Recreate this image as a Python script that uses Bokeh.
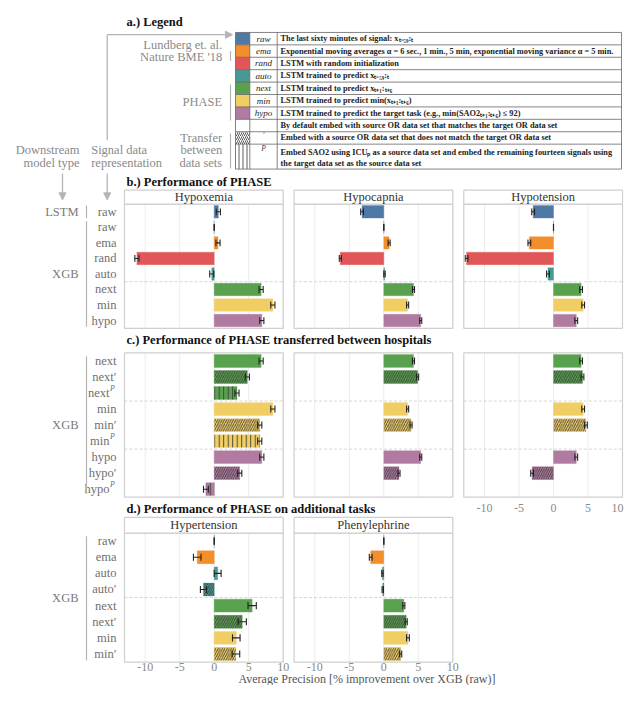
from bokeh.plotting import figure
from bokeh.models import Range1d, Arrow, NormalHead, ColumnDataSource
from bokeh.core.properties import value
from bokeh.embed import file_html
from bokeh.resources import INLINE

# ---------------- data ----------------
rep_names = ["raw", "ema", "rand", "auto", "next", "min", "hypo"]
rep_colors = ["#4E79A7", "#F28E2B", "#E15759", "#499894", "#59A14F", "#F1CE63", "#B07AA1"]

b_tasks = ["Hypoxemia", "Hypocapnia", "Hypotension"]
b_models = ["LSTM", "XGB", "XGB", "XGB", "XGB", "XGB", "XGB", "XGB"]
b_reps = ["raw", "raw", "ema", "rand", "auto", "next", "min", "hypo"]
b_transfer = ["", "", "", "", "", "", "", ""]
b_hypoxemia = [0.6, 0.0, 0.55, -11.2, -0.35, 6.8, 8.5, 6.9]
b_hypoxemia_err = [0.3, 0.0, 0.3, 0.3, 0.3, 0.3, 0.3, 0.3]
b_hypocapnia = [-3.15, 0.0, 0.77, -6.3, 0.1, 4.3, 3.45, 5.35]
b_hypocapnia_err = [0.2, 0.0, 0.15, 0.15, 0.1, 0.15, 0.15, 0.15]
b_hypotension = [-2.95, 0.0, -3.5, -12.6, -0.8, 4.0, 4.3, 3.3]
b_hypotension_err = [0.2, 0.0, 0.2, 0.2, 0.2, 0.2, 0.2, 0.2]

c_reps = ["next", "next", "next", "min", "min", "min", "hypo", "hypo", "hypo"]
c_transfer = ["", "prime", "P", "", "prime", "P", "", "prime", "P"]
c_hypoxemia = [6.8, 4.8, 3.3, 8.5, 6.6, 6.6, 6.9, 3.7, -1.2]
c_hypoxemia_err = [0.3, 0.3, 0.3, 0.3, 0.3, 0.3, 0.3, 0.3, 0.35]
c_hypocapnia = [4.3, 4.9, None, 3.45, 3.95, None, 5.35, 2.2, None]
c_hypocapnia_err = [0.15, 0.15, None, 0.15, 0.15, None, 0.15, 0.15, None]
c_hypotension = [4.0, 4.2, None, 4.3, 4.7, None, 3.3, -3.1, None]
c_hypotension_err = [0.2, 0.2, None, 0.2, 0.2, None, 0.2, 0.2, None]

d_tasks = ["Hypertension", "Phenylephrine"]
d_reps = ["raw", "ema", "auto", "auto", "next", "next", "min", "min"]
d_transfer = ["", "", "", "prime", "", "prime", "", "prime"]
d_hypertension = [0.0, -2.46, 0.5, -1.55, 5.5, 4.06, 3.2, 3.15]
d_hypertension_err = [0.0, 0.55, 0.5, 0.45, 0.6, 0.6, 0.55, 0.55]
d_phenylephrine = [0.0, -1.9, -0.2, -0.15, 2.9, 3.25, 3.5, 2.45]
d_phenylephrine_err = [0.0, 0.2, 0.1, 0.1, 0.15, 0.15, 0.2, 0.15]

x_ticks = [-10, -5, 0, 5, 10]
x_tick_labels = ["-10", "-5", "0", "5", "10"]
x_title = "Average Precision [% improvement over XGB (raw)]"

legend_desc = [
    "The last sixty minutes of signal: xₜ₋₅₉:ₜ",
    "Exponential moving averages α = 6 sec., 1 min., 5 min, exponential moving variance α = 5 min.",
    "LSTM with random initialization",
    "LSTM trained to predict xₜ₋₅₉:ₜ",
    "LSTM trained to predict xₜ₊₁:ₜ₊₆",
    "LSTM trained to predict min(xₜ₊₁:ₜ₊₆)",
    "LSTM trained to predict the target task (e.g., min(SAO2ₜ₊₁:ₜ₊₆) ≤ 92)",
    "By default embed with source OR data set that matches the target OR data set",
    "Embed with a source OR data set that does not match the target OR data set",
]
legend_desc_last = ["Embed SAO2 using ICUₚ as a source data set and embed the remaining  fourteen signals using",
                    "the target data set as the source data set"]

# ---------------- layout / style ----------------
SERIF = value("Liberation Serif")
W, H = 624, 685
REF_H = 701.0
GRAY_LINE = "#b5b5b5"
LABEL_GRAY = "#7a7a7a"
HATCH = {"": " ", "prime": "/", "P": "|"}

p = figure(width=W, height=H, x_range=Range1d(0, W), y_range=Range1d(REF_H, 0),
           output_backend="svg", toolbar_location=None, min_border=0,
           x_axis_location=None, y_axis_location=None)
p.grid.visible = False
p.outline_line_color = None

K = 6.9  # px per unit
ZERO = [213.7, 383.3, 553.0]
for c, z in enumerate(ZERO):
    s = -z / K
    p.extra_x_ranges["col%d" % c] = Range1d(s, s + W / K)
XMIN, XMAX = -13.0, 10.0

SECT = {"b": (208.3, 15.9, 8, 14.3), "c": (360.7, 16.4, 9, 0.0), "d": (545.0, 16.5, 8, 16.0)}
for name, (top, step, n, sh) in SECT.items():
    p.extra_y_ranges[name] = Range1d((REF_H - top) / step - 0.5, (0 - top) / step - 0.5)

def color_of(rep):
    return rep_colors[rep_names.index(rep)]

def panel(sec, col, reps, transfer, vals, errs, title=None):
    top, step, n, sh = SECT[sec]
    xr, yr = "col%d" % col, sec
    strip_top = -0.5 - sh / step
    p.quad(left=XMIN, right=XMAX, top=-0.5, bottom=n - 0.5, fill_color="white", line_color=None,
           x_range_name=xr, y_range_name=yr)
    p.segment(x0=x_ticks, x1=x_ticks, y0=[strip_top] * 5, y1=[n - 0.5] * 5, line_color="#ececec",
              line_width=1, x_range_name=xr, y_range_name=yr)
    seps = {"b": [4.5], "c": [2.5, 5.5], "d": [3.5]}[sec]
    p.segment(x0=[XMIN] * len(seps), x1=[XMAX] * len(seps), y0=seps, y1=seps, line_color="#d6d6d6",
              line_dash="3 2", line_width=1, x_range_name=xr, y_range_name=yr)
    idx = [i for i in range(n) if vals[i] is not None]
    src = ColumnDataSource(dict(
        y=idx, v=[vals[i] for i in idx], lo=[vals[i] - errs[i] for i in idx],
        hi=[vals[i] + errs[i] for i in idx], ytop=[i - 0.22 for i in idx], ybot=[i + 0.22 for i in idx],
        color=[color_of(reps[i]) for i in idx], hatch=[HATCH[transfer[i]] for i in idx]))
    p.hbar(y="y", left=0, right="v", height=0.8, fill_color="color", line_color="color", line_alpha=0.35,
           hatch_pattern="hatch", hatch_color="#3a3a3a", hatch_scale=4.5, hatch_weight=0.9,
           source=src, x_range_name=xr, y_range_name=yr)
    for a, b_ in (("lo", "hi"), ("lo", "lo"), ("hi", "hi")):
        if a == b_:
            p.segment(x0=a, x1=a, y0="ytop", y1="ybot", line_color="#222222", line_width=1.1,
                      source=src, x_range_name=xr, y_range_name=yr)
        else:
            p.segment(x0=a, x1=b_, y0="y", y1="y", line_color="#222222", line_width=1.1,
                      source=src, x_range_name=xr, y_range_name=yr)
    p.quad(left=XMIN, right=XMAX, top=-0.5, bottom=n - 0.5, fill_color=None, line_color="#cfcfcf",
           line_width=1.2, x_range_name=xr, y_range_name=yr)
    if title is not None:
        p.quad(left=XMIN, right=XMAX, top=strip_top, bottom=-0.5, fill_color="white", line_color="#cfcfcf",
               line_width=1.2, x_range_name=xr, y_range_name=yr)
        p.text(x=[(XMIN + XMAX) / 2], y=[(strip_top - 0.5) / 2], text=[title], text_font=SERIF,
               text_font_size="12.5px", text_color="#333333", text_align="center", text_baseline="middle",
               x_range_name=xr, y_range_name=yr)

def row_labels(sec, reps, transfer):
    top, step, n, sh = SECT[sec]
    lab = [reps[i] + ("′" if transfer[i] == "prime" else "") for i in range(n)]
    xs = [116 if t != "P" else 109 for t in transfer]
    p.text(x=xs, y=list(range(n)), text=lab, text_font=SERIF, text_font_size="12.5px", text_color="#6f6f6f",
           text_align="right", text_baseline="middle", y_range_name=sec)
    supy = [i - 0.28 for i in range(n) if transfer[i] == "P"]
    if supy:
        p.text(x=[109.5] * len(supy), y=supy, text=["P"] * len(supy), text_font=SERIF,
               text_font_style="italic", text_font_size="8px", text_color="#6f6f6f",
               text_align="left", text_baseline="middle", y_range_name=sec)

for c, (v, e) in enumerate([(b_hypoxemia, b_hypoxemia_err), (b_hypocapnia, b_hypocapnia_err),
                            (b_hypotension, b_hypotension_err)]):
    panel("b", c, b_reps, b_transfer, v, e, b_tasks[c])
row_labels("b", b_reps, b_transfer)
for c, (v, e) in enumerate([(c_hypoxemia, c_hypoxemia_err), (c_hypocapnia, c_hypocapnia_err),
                            (c_hypotension, c_hypotension_err)]):
    panel("c", c, c_reps, c_transfer, v, e)
row_labels("c", c_reps, c_transfer)
for c, (v, e) in enumerate([(d_hypertension, d_hypertension_err), (d_phenylephrine, d_phenylephrine_err)]):
    panel("d", c, d_reps, d_transfer, v, e, d_tasks[c])
row_labels("d", d_reps, d_transfer)

# tick labels
p.text(x=x_ticks, y=[519] * 5, text=x_tick_labels, text_font=SERIF, text_font_size="12px",
       text_color="#8a8a8a", text_align="center", text_baseline="middle", x_range_name="col2",
       x_offset=[0, 0, 0, 0, -5])
for c in (0, 1):
    p.text(x=x_ticks, y=[682] * 5, text=x_tick_labels, text_font=SERIF, text_font_size="12px",
           text_color="#8a8a8a", text_align="center", text_baseline="middle", x_range_name="col%d" % c)
p.text(x=[238], y=[694], text=[x_title], text_font=SERIF, text_font_size="12px", text_color="#555555",
       text_align="left", text_baseline="middle")

# model labels and group lines
p.text(x=[78], y=[0], text=["LSTM"], text_font=SERIF, text_font_size="12.5px", text_color=LABEL_GRAY,
       text_align="right", text_baseline="middle", y_range_name="b")
p.segment(x0=[86], x1=[86], y0=[-0.4], y1=[0.4], line_color=GRAY_LINE, line_width=1.2, y_range_name="b")
for sec, yc, y0, y1 in [("b", 4.0, 0.6, 7.4), ("c", 4.0, -0.3, 8.3), ("d", 3.5, -0.3, 7.4)]:
    p.text(x=[78], y=[yc], text=["XGB"], text_font=SERIF, text_font_size="12.5px", text_color=LABEL_GRAY,
           text_align="right", text_baseline="middle", y_range_name=sec)
    p.segment(x0=[86], x1=[86], y0=[y0], y1=[y1], line_color=GRAY_LINE, line_width=1.2, y_range_name=sec)

# section titles
for t, y in [("a.) Legend", 21.7), ("b.) Performance of PHASE", 185.5),
             ("c.) Performance of PHASE transferred between hospitals", 347.5),
             ("d.) Performance of PHASE on additional tasks", 520)]:
    p.text(x=[126], y=[y], text=[t], text_font=SERIF, text_font_style="bold", text_font_size="12.5px",
           text_color="#111111", text_align="left", text_baseline="middle")

# ---------------- legend table ----------------
TX = [235, 249.3, 276.7, 621]
RT = 32.7
RH = 12.7
row_tops = [RT + i * RH for i in range(10)] + [172.5]
p.quad(left=[TX[0]] * 7, right=[TX[1]] * 7, top=row_tops[:7], bottom=row_tops[1:8], fill_color=rep_colors,
       line_color=None)
p.quad(left=[TX[0], TX[0]], right=[TX[1], TX[1]], top=[row_tops[8], row_tops[9]],
       bottom=[row_tops[9], row_tops[10]], fill_color="white", line_color=None,
       hatch_pattern=["/", "|"], hatch_color="#333333", hatch_scale=4, hatch_weight=0.8)
p.segment(x0=[TX[0]] * 11, x1=[TX[3]] * 11, y0=row_tops, y1=row_tops, line_color="#666666", line_width=0.8)
p.segment(x0=TX, x1=TX, y0=[RT] * 4, y1=[172.5] * 4, line_color="#666666", line_width=0.8)
mids = [(row_tops[i] + row_tops[i + 1]) / 2 for i in range(10)]
p.text(x=[263] * 7, y=mids[:7], text=rep_names, text_font=SERIF, text_font_style="italic",
       text_font_size="9px", text_color="#222222", text_align="center", text_baseline="middle")
p.text(x=[263, 263], y=[mids[8] - 2, row_tops[9] + 4], text=["′", "P"], text_font=SERIF,
       text_font_style="italic", text_font_size="7.5px", text_color="#444444", text_align="center",
       text_baseline="middle")
p.text(x=[280] * 9, y=mids[:9], text=legend_desc, text_font=SERIF, text_font_style="bold",
       text_font_size="8.3px", text_color="#222222", text_align="left", text_baseline="middle")
p.text(x=[280, 280], y=[156, 166.5], text=legend_desc_last, text_font=SERIF, text_font_style="bold",
       text_font_size="8.3px", text_color="#222222", text_align="left", text_baseline="middle")

right_labels = [("Lundberg et. al.", 46), ("Nature BME '18", 58.3), ("PHASE", 104.3),
                ("Transfer", 140.7), ("between", 153.5), ("data sets", 166.3)]
p.text(x=[221.7] * len(right_labels), y=[y for _, y in right_labels], text=[t for t, _ in right_labels],
       text_font=SERIF, text_font_size="12.5px", text_color="#8a8a8a", text_align="right",
       text_baseline="middle")
p.segment(x0=[230] * 3, x1=[230] * 3, y0=[51.7, 86, 136], y1=[61.7, 122.7, 172], line_color=GRAY_LINE,
          line_width=1.2)
p.text(x=[79, 79], y=[153.5, 166.3], text=["Downstream", "model type"], text_font=SERIF,
       text_font_size="12.5px", text_color="#8a8a8a", text_align="right", text_baseline="middle")
p.text(x=[90.7, 90.7], y=[153.5, 166.3], text=["Signal data", "representation"], text_font=SERIF,
       text_font_size="12.5px", text_color="#8a8a8a", text_align="left", text_baseline="middle")

# arrows
p.line(x=[106.7, 106.7], y=[143, 35], line_color=GRAY_LINE, line_width=1.3)
p.add_layout(Arrow(end=NormalHead(size=7, fill_color=GRAY_LINE, line_color=GRAY_LINE),
                   x_start=106.7, y_start=35, x_end=232, y_end=35, line_color=GRAY_LINE, line_width=1.3))
for ax in (62, 106.7):
    p.add_layout(Arrow(end=NormalHead(size=7, fill_color=GRAY_LINE, line_color=GRAY_LINE),
                       x_start=ax, y_start=177, x_end=ax, y_end=204, line_color=GRAY_LINE, line_width=1.3))

open("out.html", "w").write(file_html(p, INLINE))
